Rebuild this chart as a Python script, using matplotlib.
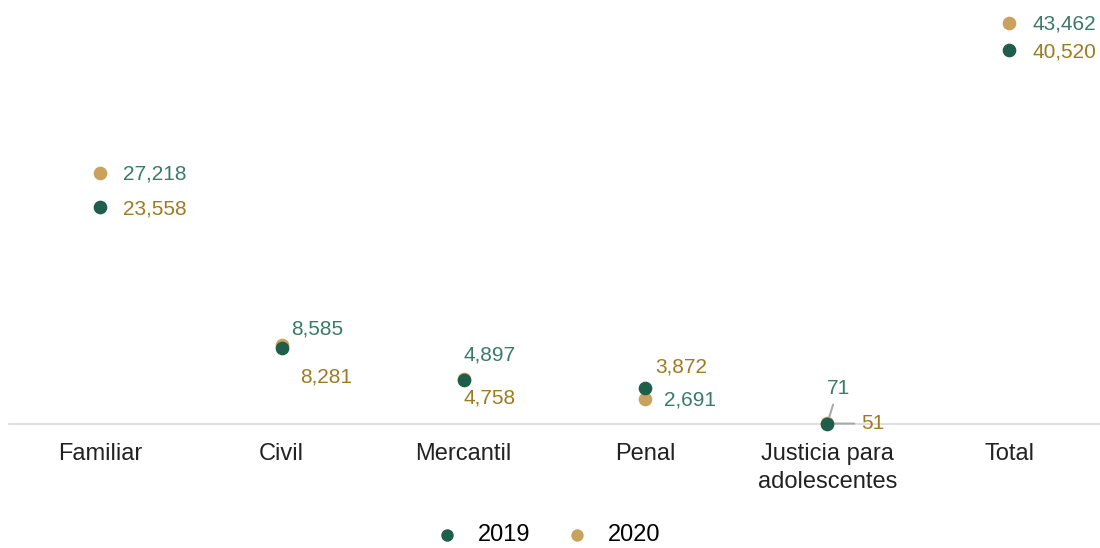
import numpy as np
import matplotlib.pyplot as plt

plt.rcParams['font.family'] = ['Liberation Sans', 'DejaVu Sans']

categorias = ["Familiar", "Civil", "Mercantil", "Penal", "Justicia para\nadolescentes", "Total"]
v2019 = [23558, 8281, 4758, 3872, 51, 40520]
v2020 = [27218, 8585, 4897, 2691, 71, 43462]

verde = "#1e5e4b"
arena = "#c9a35e"
txt_verde = "#3b7a68"
txt_oro = "#9c7b22"
fs_num = 15
fs_cat = 17

fig = plt.figure(figsize=(11, 5.48), dpi=100)
ax = fig.add_axes([9/1100, 1 - 424/548, 1 - 9/1100, 419/548])

x = np.arange(len(categorias))
ax.scatter(x, v2020, s=78, color=arena, zorder=3, clip_on=False, label="2020")
ax.scatter(x, v2019, s=78, color=verde, zorder=4, clip_on=False, label="2019")

ax.set_xlim(-0.5, len(categorias) - 0.5)
ax.set_ylim(0, 45414)
ax.set_yticks([])
ax.set_xticks(x)
ax.set_xticklabels(categorias, fontsize=fs_cat, color="#222222", linespacing=1.35)
ax.tick_params(axis="x", length=0, pad=14)
for s in ["top", "right", "left"]:
    ax.spines[s].set_visible(False)
ax.spines["bottom"].set_color("#d9d9d9")
ax.spines["bottom"].set_linewidth(1.2)

# offsets (pixels) de las etiquetas: (2020, 2019)
off20 = [(23, -1), (9, 16), (0, 24), (19, -1), (0, 35), (23, -1)]
off19 = [(23, -2), (18, -29), (0, -18), (10, 21), (34, 0), (23, -2)]

for i in range(len(categorias)):
    if i == 4:
        ax.annotate(f"{v2020[i]:,}", xy=(x[i], v2020[i]), xytext=(11, 35),
                    textcoords="offset pixels", color=txt_verde, fontsize=fs_num,
                    ha="center", va="center",
                    arrowprops=dict(arrowstyle="-", color="#aaaaaa", lw=1.5,
                                    shrinkA=3, shrinkB=4))
        ax.annotate(f"{v2019[i]:,}", xy=(x[i], v2019[i]), xytext=(34, 0),
                    textcoords="offset pixels", color=txt_oro, fontsize=fs_num,
                    ha="left", va="center",
                    arrowprops=dict(arrowstyle="-", color="#aaaaaa", lw=1.5,
                                    shrinkA=3, shrinkB=2))
        continue
    ax.annotate(f"{v2020[i]:,}", xy=(x[i], v2020[i]), xytext=off20[i],
                textcoords="offset pixels", color=txt_verde, fontsize=fs_num,
                ha="left", va="center")
    ax.annotate(f"{v2019[i]:,}", xy=(x[i], v2019[i]), xytext=off19[i],
                textcoords="offset pixels", color=txt_oro, fontsize=fs_num,
                ha="left", va="center")

h, l = ax.get_legend_handles_labels()
fig.legend([h[1], h[0]], [l[1], l[0]], loc="center", bbox_to_anchor=(0.497, 1 - 535/548),
           ncol=2, frameon=False, fontsize=fs_cat, handletextpad=0.73, columnspacing=1.35,
           markerscale=0.9, handlelength=1.2, borderpad=0.2)

fig.savefig("out.png", dpi=100)
